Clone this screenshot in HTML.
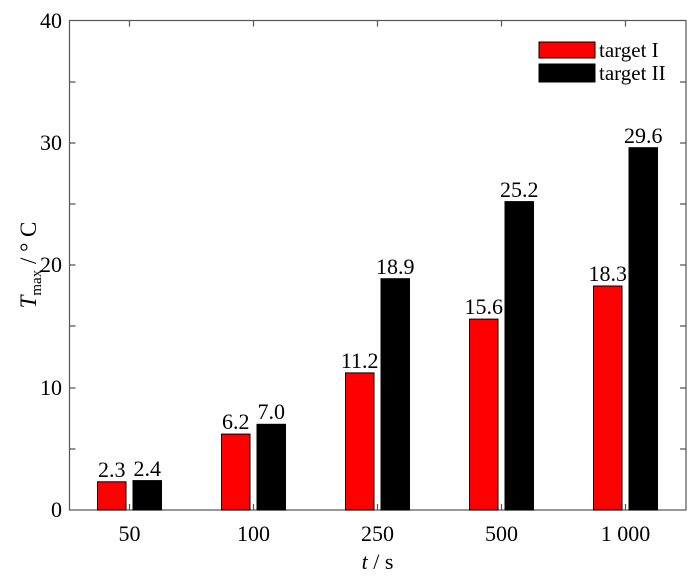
<!DOCTYPE html>
<html><head><meta charset="utf-8"><style>body{margin:0;background:#fff}svg text{font-family:"Liberation Serif","DejaVu Serif",serif;}</style></head><body>
<svg width="700" height="575" xmlns="http://www.w3.org/2000/svg" style="font-family:'Liberation Serif',serif" font-size="21">
<rect width="700" height="575" fill="#fff"/>
<g stroke="#555" stroke-width="1.2" fill="none">
<rect x="69.5" y="20.5" width="616.5" height="489.5"/>
<path d="M69.5 449h6M69.5 388h6M69.5 326h6M69.5 265h6M69.5 204h6M69.5 143h6M69.5 82h6M686 449h-6M686 388h-6M686 326h-6M686 265h-6M686 204h-6M686 143h-6M686 82h-6M129.5 510v-6M253.5 510v-6M377.5 510v-6M501.5 510v-6M625.5 510v-6M129.5 20.5v6M253.5 20.5v6M377.5 20.5v6M501.5 20.5v6M625.5 20.5v6"/>
</g>
<g stroke="#000" stroke-width="1">
<rect x="97.5" y="481.8" width="28.5" height="28.2" fill="#f00"/>
<rect x="133" y="480.6" width="28.5" height="29.4" fill="#000"/>
<rect x="221.5" y="434.1" width="28.5" height="75.9" fill="#f00"/>
<rect x="257" y="424.3" width="28.5" height="85.7" fill="#000"/>
<rect x="345.5" y="372.9" width="28.5" height="137.1" fill="#f00"/>
<rect x="381" y="278.7" width="28.5" height="231.3" fill="#000"/>
<rect x="469.5" y="319.1" width="28.5" height="190.9" fill="#f00"/>
<rect x="505" y="201.6" width="28.5" height="308.4" fill="#000"/>
<rect x="593.5" y="286" width="28.5" height="224" fill="#f00"/>
<rect x="629" y="147.7" width="28.5" height="362.3" fill="#000"/>
<rect x="539" y="42" width="56" height="16" fill="#f00"/>
<rect x="539" y="64" width="56" height="18" fill="#000"/>
</g>
<g text-anchor="middle" font-size="22">
<text x="111.7" y="477">2.3</text><text x="147.2" y="476">2.4</text>
<text x="235.7" y="429">6.2</text><text x="271.2" y="419">7.0</text>
<text x="359.7" y="368">11.2</text><text x="395.2" y="274">18.9</text>
<text x="483.7" y="314">15.6</text><text x="519.2" y="197">25.2</text>
<text x="607.7" y="281">18.3</text><text x="643.2" y="143">29.6</text>
<text x="129.5" y="541">50</text><text x="253.5" y="541">100</text><text x="377.5" y="541">250</text><text x="501.5" y="541">500</text><text x="625.5" y="541">1 000</text>
<text x="377.5" y="569"><tspan font-style="italic">t</tspan> / s</text>
</g>
<g text-anchor="end" font-size="22">
<text x="62" y="517">0</text><text x="62" y="395">10</text><text x="62" y="272">20</text><text x="62" y="150">30</text><text x="62" y="28">40</text>
</g>
<text x="599" y="57">target I</text>
<text x="599" y="80">target II</text>
<text transform="translate(36,265) rotate(-90)" text-anchor="middle" font-size="23"><tspan font-style="italic">T</tspan><tspan font-size="15" dy="5">max</tspan><tspan dy="-5"> / ° C</tspan></text>
</svg>
</body></html>
